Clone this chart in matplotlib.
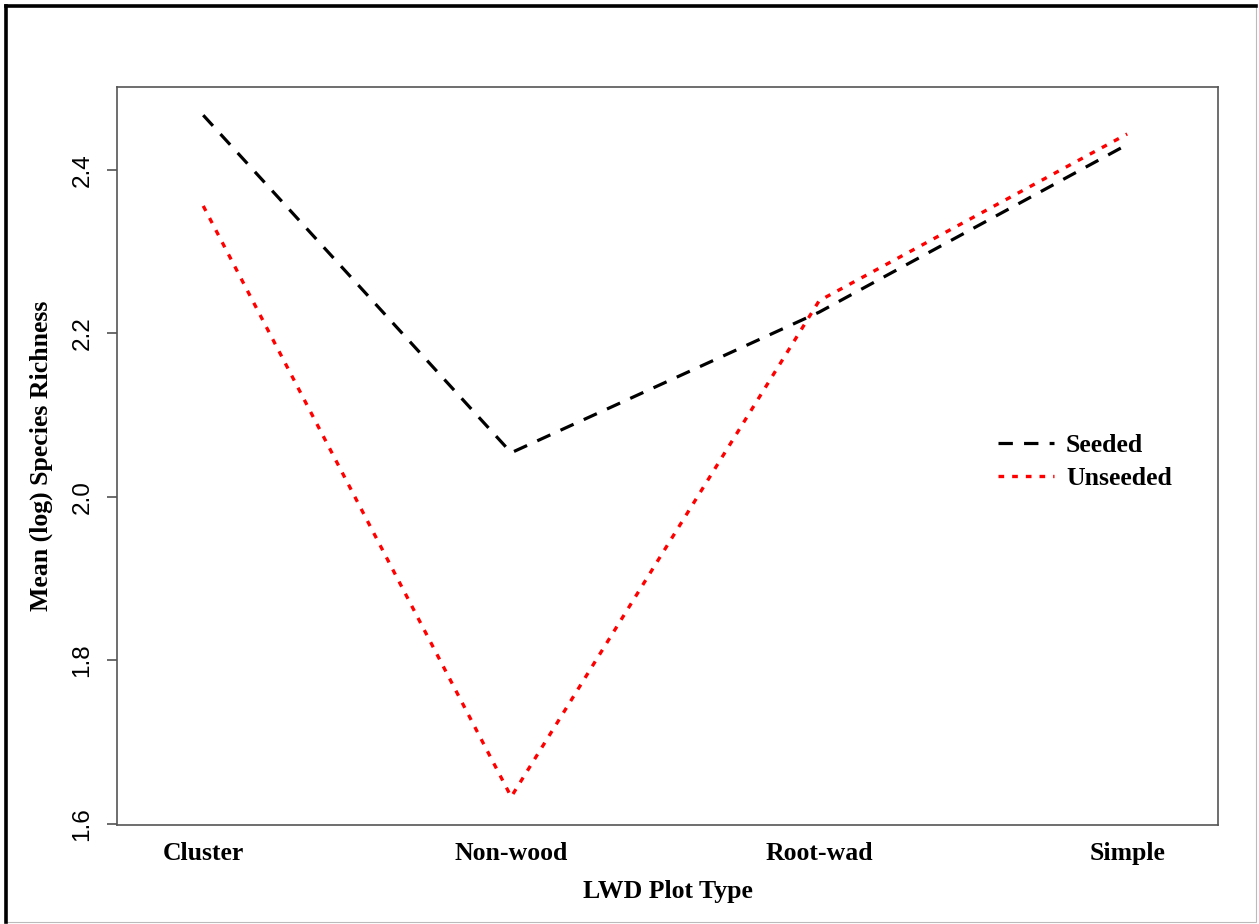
import matplotlib.pyplot as plt
from matplotlib.patches import Rectangle

plot_types = ["Cluster", "Non-wood", "Root-wad", "Simple"]
seeded = [2.467, 2.054, 2.226, 2.431]
unseeded = [2.356, 1.633, 2.240, 2.444]
y_ticks = [1.6, 1.8, 2.0, 2.2, 2.4]

fig = plt.figure(figsize=(12.59, 9.24), dpi=100)
ax = fig.add_axes([117 / 1259, 99 / 924, 1101 / 1259, 738 / 924])

x = list(range(1, len(plot_types) + 1))
ax.plot(x, seeded, color="black", lw=2.3, dashes=(4.5, 3.5), label="Seeded")
ax.plot(x, unseeded, color="red", lw=2.4, dashes=(1.7, 2.4), label="Unseeded")

ax.set_xlim(0.72, 4.295)
ax.set_ylim(1.5985, 2.5015)

ax.set_xticks(x)
ax.set_xticklabels(plot_types, family="Liberation Serif", weight="bold", fontsize=18.5)
ax.tick_params(axis="x", length=0, pad=12)
ax.set_yticks(y_ticks)
ax.set_yticklabels([f"{v:.1f}" for v in y_ticks], family="Liberation Sans",
                   fontsize=17.5, rotation=90, va="center")
ax.tick_params(axis="y", length=7, width=1.1, color="#444444", pad=10)

for s in ax.spines.values():
    s.set_color("#555555")
    s.set_linewidth(1.2)

ax.set_xlabel("LWD Plot Type", family="Liberation Serif", weight="bold",
              fontsize=18.5, labelpad=11)
ax.set_ylabel("Mean (log) Species Richness", family="Liberation Serif",
              weight="bold", fontsize=18.5, labelpad=13)

ax.legend(loc="center left", bbox_to_anchor=(0.779, 0.492), frameon=False,
          prop={"family": "Liberation Serif", "weight": "bold", "size": 18.5},
          handlelength=2.2, handletextpad=0.45, labelspacing=0.42)

# page border around the figure
fig.add_artist(Rectangle((5 / 1259, 2 / 924), 1251 / 1259, 916 / 924,
                         transform=fig.transFigure, fill=False,
                         edgecolor="#bbbbbb", lw=0.8))
fig.add_artist(plt.Line2D([6 / 1259, 6 / 1259], [2 / 924, 918 / 924],
                          transform=fig.transFigure, color="black", lw=2.6))
fig.add_artist(plt.Line2D([6 / 1259, 1256 / 1259], [918 / 924, 918 / 924],
                          transform=fig.transFigure, color="black", lw=2.6))

fig.savefig("out.png", dpi=100)
